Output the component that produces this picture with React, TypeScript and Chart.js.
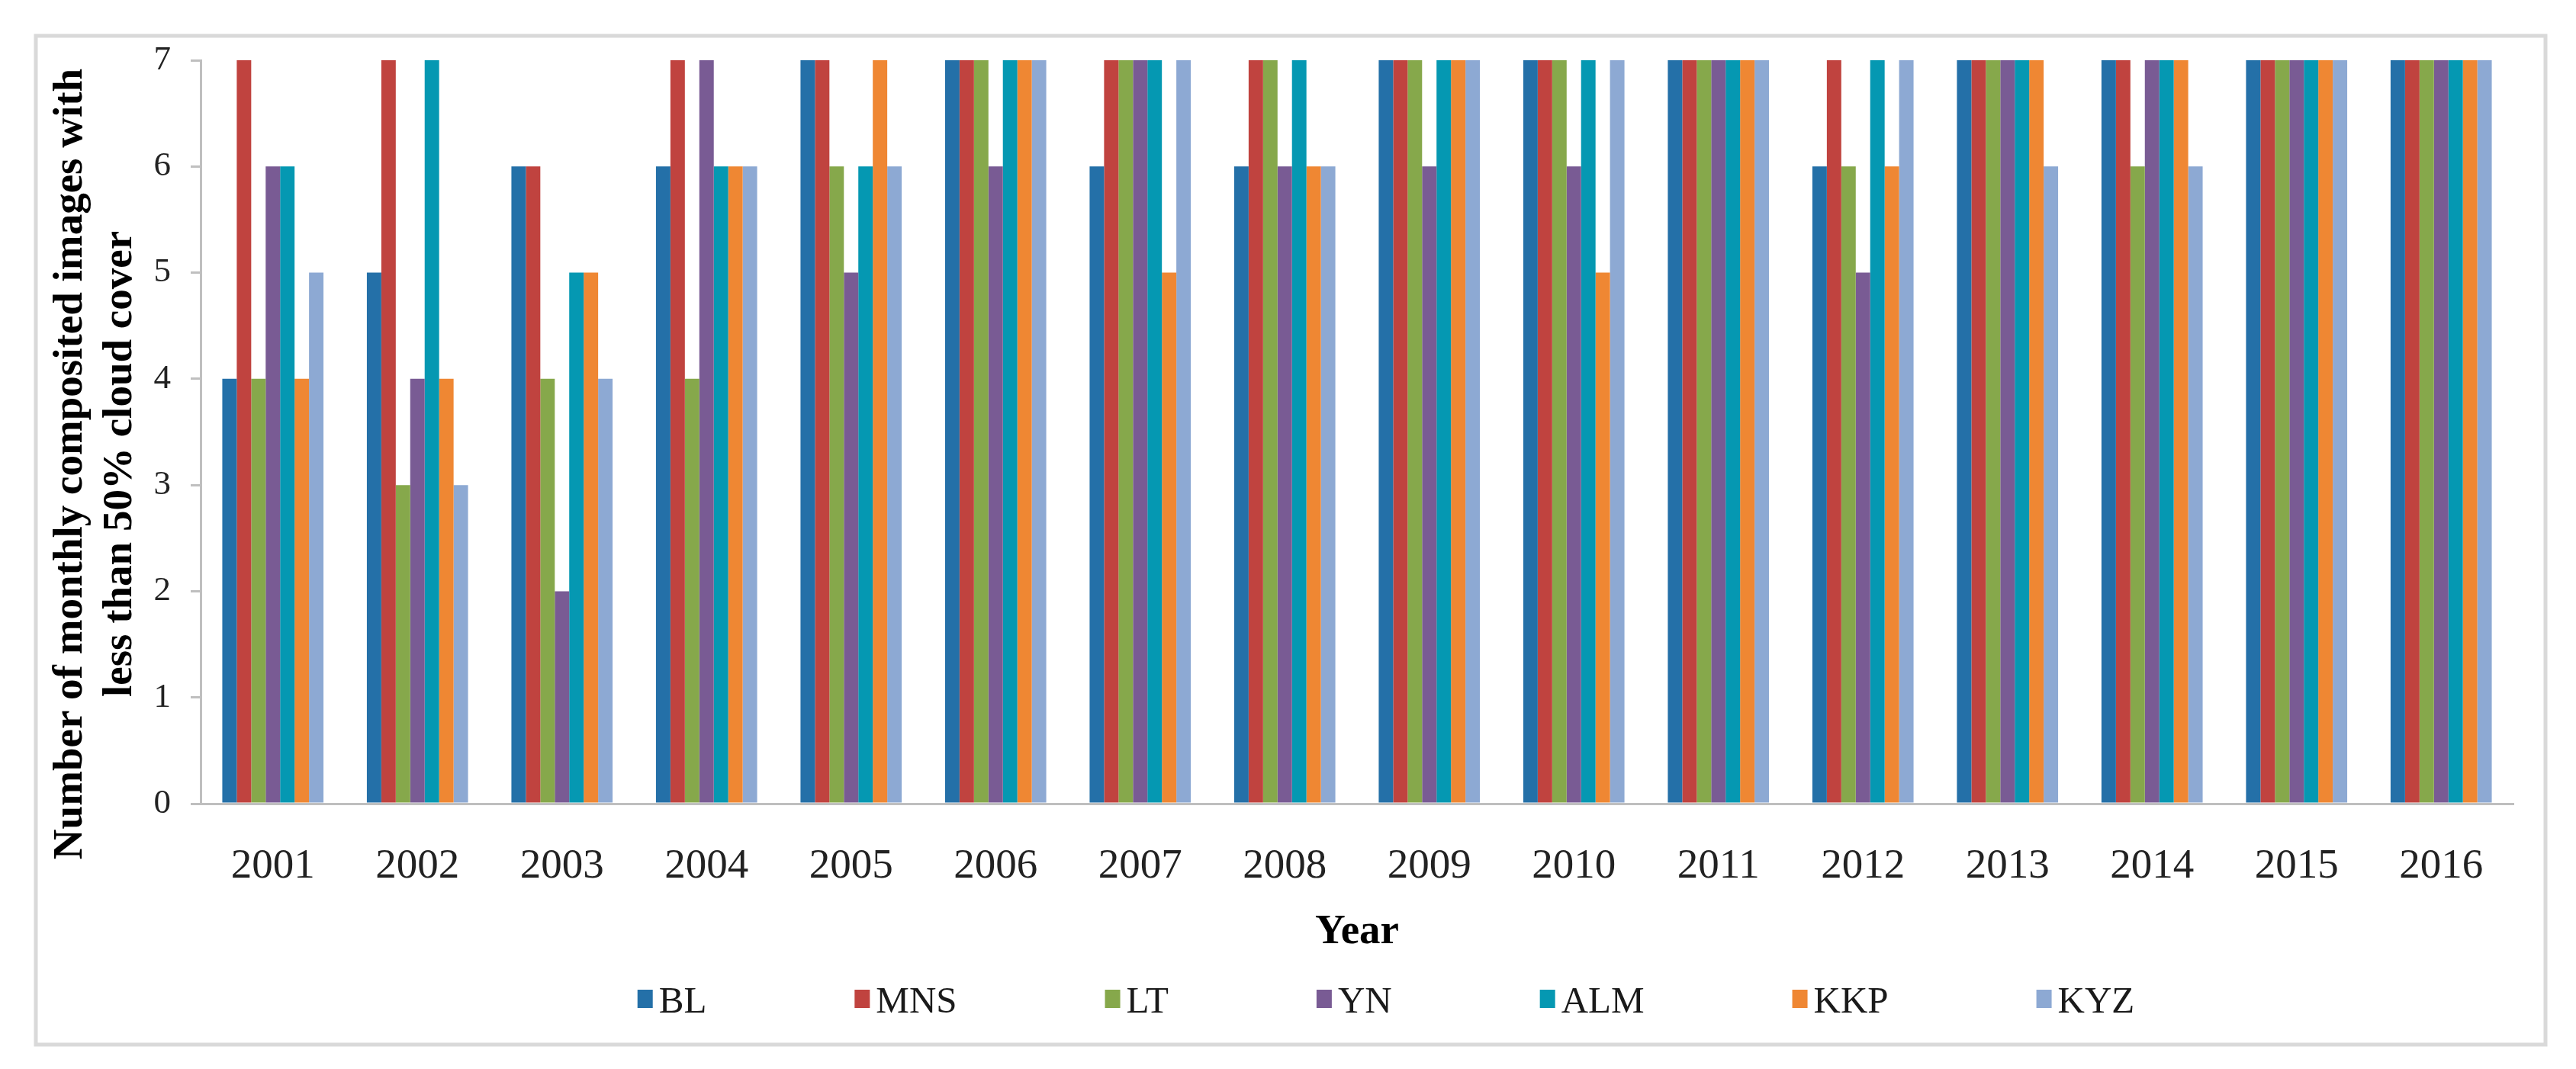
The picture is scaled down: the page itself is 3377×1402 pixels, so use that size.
import React, { useEffect, useRef } from "react";
import { Chart, registerables } from "chart.js";

Chart.register(...registerables);

// ---- data ----
const years = ["2001", "2002", "2003", "2004", "2005", "2006", "2007", "2008", "2009", "2010", "2011", "2012", "2013", "2014", "2015", "2016"];
const seriesNames = ["BL", "MNS", "LT", "YN", "ALM", "KKP", "KYZ"];
const BL = [4, 5, 6, 6, 7, 7, 6, 6, 7, 7, 7, 6, 7, 7, 7, 7];
const MNS = [7, 7, 6, 7, 7, 7, 7, 7, 7, 7, 7, 7, 7, 7, 7, 7];
const LT = [4, 3, 4, 4, 6, 7, 7, 7, 7, 7, 7, 6, 7, 6, 7, 7];
const YN = [6, 4, 2, 7, 5, 6, 7, 6, 6, 6, 7, 5, 7, 7, 7, 7];
const ALM = [6, 7, 5, 6, 6, 7, 7, 7, 7, 7, 7, 7, 7, 7, 7, 7];
const KKP = [4, 4, 5, 6, 7, 7, 5, 6, 7, 5, 7, 6, 7, 7, 7, 7];
const KYZ = [5, 3, 4, 6, 6, 7, 7, 6, 7, 7, 7, 7, 6, 6, 7, 7];
const yMin = 0;
const yMax = 7;
const yStep = 1;
const yTitleLines = ["Number of monthly composited images with", "less than 50% cloud cover"];
const xTitle = "Year";

const seriesValues = [BL, MNS, LT, YN, ALM, KKP, KYZ];
const seriesColors = ["#2470A8", "#C0433F", "#86A84B", "#795B94", "#0598B2", "#EF8733", "#8DA9D3"];

const FAMILY = '"Liberation Serif", "Times New Roman", serif';

const decorPlugin = {
  id: "decor",
  beforeDraw(chart: any) {
    const ctx = chart.ctx as CanvasRenderingContext2D;
    ctx.save();
    ctx.fillStyle = "#ffffff";
    ctx.fillRect(0, 0, chart.width, chart.height);
    ctx.strokeStyle = "#d9d9d9";
    ctx.lineWidth = 5;
    ctx.strokeRect(47, 47, 3290, 1323);
    ctx.restore();
  },
  afterDraw(chart: any) {
    const ctx = chart.ctx as CanvasRenderingContext2D;
    const ca = chart.chartArea;
    ctx.save();
    ctx.fillStyle = "#000000";
    ctx.font = `bold 55px ${FAMILY}`;
    // y-axis title (two lines, rotated)
    ctx.save();
    ctx.translate(ca.left - 156, (ca.top + ca.bottom) / 2 + 42);
    ctx.rotate(-Math.PI / 2);
    ctx.textAlign = "center";
    ctx.textBaseline = "alphabetic";
    ctx.fillText(yTitleLines[0], 0, 0);
    ctx.fillText(yTitleLines[1], 0, 65);
    ctx.restore();
    // x-axis title
    ctx.textAlign = "center";
    ctx.textBaseline = "alphabetic";
    ctx.fillText(xTitle, (ca.left + ca.right) / 2, ca.bottom + 183);
    // legend
    ctx.font = `49px ${FAMILY}`;
    const boxW = 20;
    const boxH = 24;
    const gap = 8;
    const spacing = 194;
    const datasets = chart.data.datasets;
    const widths = datasets.map((d: any) => ctx.measureText(d.label).width);
    const total = widths.reduce((a: number, w: number) => a + boxW + gap + w, 0) + spacing * (datasets.length - 1);
    let x = (ca.left + ca.right) / 2 + 38 - total / 2;
    const boxTop = ca.bottom + 244;
    const baseline = ca.bottom + 274;
    ctx.textAlign = "left";
    datasets.forEach((d: any, i: number) => {
      ctx.fillStyle = d.backgroundColor;
      ctx.fillRect(x, boxTop, boxW, boxH);
      ctx.fillStyle = "#1a1a1a";
      ctx.fillText(d.label, x + boxW + gap, baseline);
      x += boxW + gap + widths[i] + spacing;
    });
    ctx.restore();
  },
};

export default function App() {
  const canvasRef = useRef<HTMLCanvasElement>(null);

  useEffect(() => {
    document.body.style.margin = "0";
    document.body.style.background = "#ffffff";
    const canvas = canvasRef.current;
    if (!canvas) return;
    const chart = new Chart(canvas, {
      type: "bar",
      data: {
        labels: years,
        datasets: seriesNames.map((name, i) => ({
          label: name,
          data: seriesValues[i],
          backgroundColor: seriesColors[i],
          borderWidth: 0,
          categoryPercentage: 0.7,
          barPercentage: 1.0,
        })),
      },
      options: {
        animation: false,
        responsive: true,
        maintainAspectRatio: false,
        layout: { padding: { left: 0, top: 79, right: 82, bottom: 0 } },
        plugins: {
          legend: { display: false },
          tooltip: { enabled: false },
          title: { display: false },
        },
        scales: {
          x: {
            grid: { display: false, drawTicks: false },
            border: { display: true, color: "#bfbfbf", width: 3 },
            ticks: {
              font: { family: FAMILY, size: 55 },
              color: "#222222",
              padding: 50,
              maxRotation: 0,
              autoSkip: false,
            },
            afterFit: (s: any) => {
              s.height = 348;
            },
          },
          y: {
            min: yMin,
            max: yMax,
            ticks: {
              stepSize: yStep,
              font: { family: FAMILY, size: 45 },
              color: "#222222",
              padding: 26,
            },
            grid: {
              drawOnChartArea: false,
              drawTicks: true,
              tickLength: 13,
              color: "#bfbfbf",
              lineWidth: 3,
            },
            border: { display: true, color: "#bfbfbf", width: 3 },
            afterFit: (s: any) => {
              s.width = 263;
            },
          },
        },
      },
      plugins: [decorPlugin],
    } as any);
    return () => chart.destroy();
  }, []);

  return (
    <div style={{ width: 3377, height: 1402, position: "relative", background: "#ffffff" }}>
      <canvas ref={canvasRef} />
    </div>
  );
}
